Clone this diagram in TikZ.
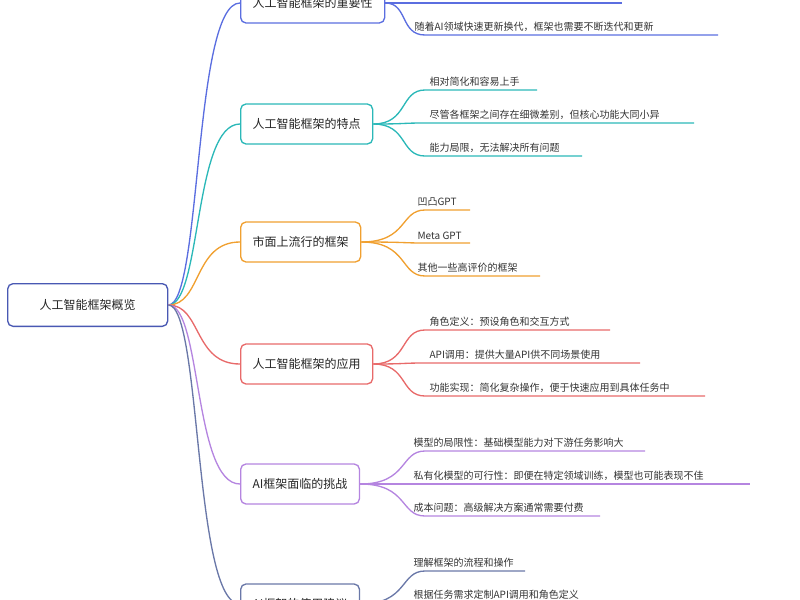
\documentclass[tikz,border=0pt]{standalone}
\usepackage{fontspec}
\setmainfont{Noto Sans CJK SC}
\begin{document}
\begin{tikzpicture}[x=0.75pt,y=-0.75pt,
  box/.style={draw=#1,line width=1pt,rounded corners=4pt,fill=white,minimum height=30pt,inner xsep=9pt,anchor=west,font=\fontsize{9}{10}\selectfont,text=black!85},
  leaf/.style={anchor=south west,inner sep=1pt,font=\fontsize{7.5}{9}\selectfont,text=black!80},
  con/.style={draw=#1,line width=1pt}]
\useasboundingbox (0,0) rectangle (800,600);
\definecolor{c1}{HTML}{5B6EE0}\definecolor{c2}{HTML}{2BB8B8}\definecolor{c3}{HTML}{F0A030}
\definecolor{c4}{HTML}{E86A6A}\definecolor{c5}{HTML}{B585E0}\definecolor{c6}{HTML}{6A78A8}
\node[box=c1!80!black,minimum height=32pt,minimum width=120pt] (root) at (7,305) {人工智能框架概览};
% branches
\node[box=c1] (b1) at (240,3) {人工智能框架的重要性};
\node[box=c2] (b2) at (240,124) {人工智能框架的特点};
\node[box=c3] (b3) at (240,242) {市面上流行的框架};
\node[box=c4] (b4) at (240,364) {人工智能框架的应用};
\node[box=c5] (b5) at (240,484) {AI框架面临的挑战};
\node[box=c6] (b6) at (240,604) {AI框架的使用建议};
\foreach \b/\c in {b1/c1,b2/c2,b3/c3,b4/c4,b5/c5,b6/c6}{
  \draw[con=\c] (root.east) .. controls ([xshift=25]root.east) and ([xshift=-35]\b.west) .. (\b.west);}
% leaf endpoints
\coordinate (l11) at (622,3); \coordinate (l12) at (718,35);
\coordinate (l21) at (537,90); \coordinate (l22) at (694,123); \coordinate (l23) at (582,156);
\coordinate (l31) at (470,210); \coordinate (l32) at (470,243); \coordinate (l33) at (540,276);
\coordinate (l41) at (610,330); \coordinate (l42) at (640,363); \coordinate (l43) at (705,396);
\coordinate (l51) at (645,451); \coordinate (l52) at (750,484); \coordinate (l53) at (600,516);
\coordinate (l61) at (525,571); \coordinate (l62) at (640,604);
\foreach \b/\l/\c in {b1/l11/c1,b1/l12/c1,b2/l21/c2,b2/l22/c2,b2/l23/c2,b3/l31/c3,b3/l32/c3,b3/l33/c3,b4/l41/c4,b4/l42/c4,b4/l43/c4,b5/l51/c5,b5/l52/c5,b5/l53/c5,b6/l61/c6,b6/l62/c6}{
  \draw[con=\c] (\b.east) .. controls (408,0|-\b.east) and (400,0|-\l) .. (425,0|-\l) -- (\l);}
\node[leaf] (t12) at (413,33) {随着AI领域快速更新换代，框架也需要不断迭代和更新};
\node[leaf] (t21) at (428,88) {相对简化和容易上手};
\node[leaf] (t22) at (428,121) {尽管各框架之间存在细微差别，但核心功能大同小异};
\node[leaf] (t23) at (428,154) {能力局限，无法解决所有问题};
\node[leaf] (t31) at (416,208) {凹凸GPT};
\node[leaf] (t32) at (416,241) {Meta GPT};
\node[leaf] (t33) at (416,274) {其他一些高评价的框架};
\node[leaf] (t41) at (428,328) {角色定义：预设角色和交互方式};
\node[leaf] (t42) at (428,361) {API调用：提供大量API供不同场景使用};
\node[leaf] (t43) at (428,394) {功能实现：简化复杂操作，便于快速应用到具体任务中};
\node[leaf] (t51) at (412,449) {模型的局限性：基础模型能力对下游任务影响大};
\node[leaf] (t52) at (412,482) {私有化模型的可行性：即便在特定领域训练，模型也可能表现不佳};
\node[leaf] (t53) at (412,514) {成本问题：高级解决方案通常需要付费};
\node[leaf] (t61) at (412,569) {理解框架的流程和操作};
\node[leaf] (t62) at (412,601) {根据任务需求定制API调用和角色定义};
\end{tikzpicture}
\end{document}
